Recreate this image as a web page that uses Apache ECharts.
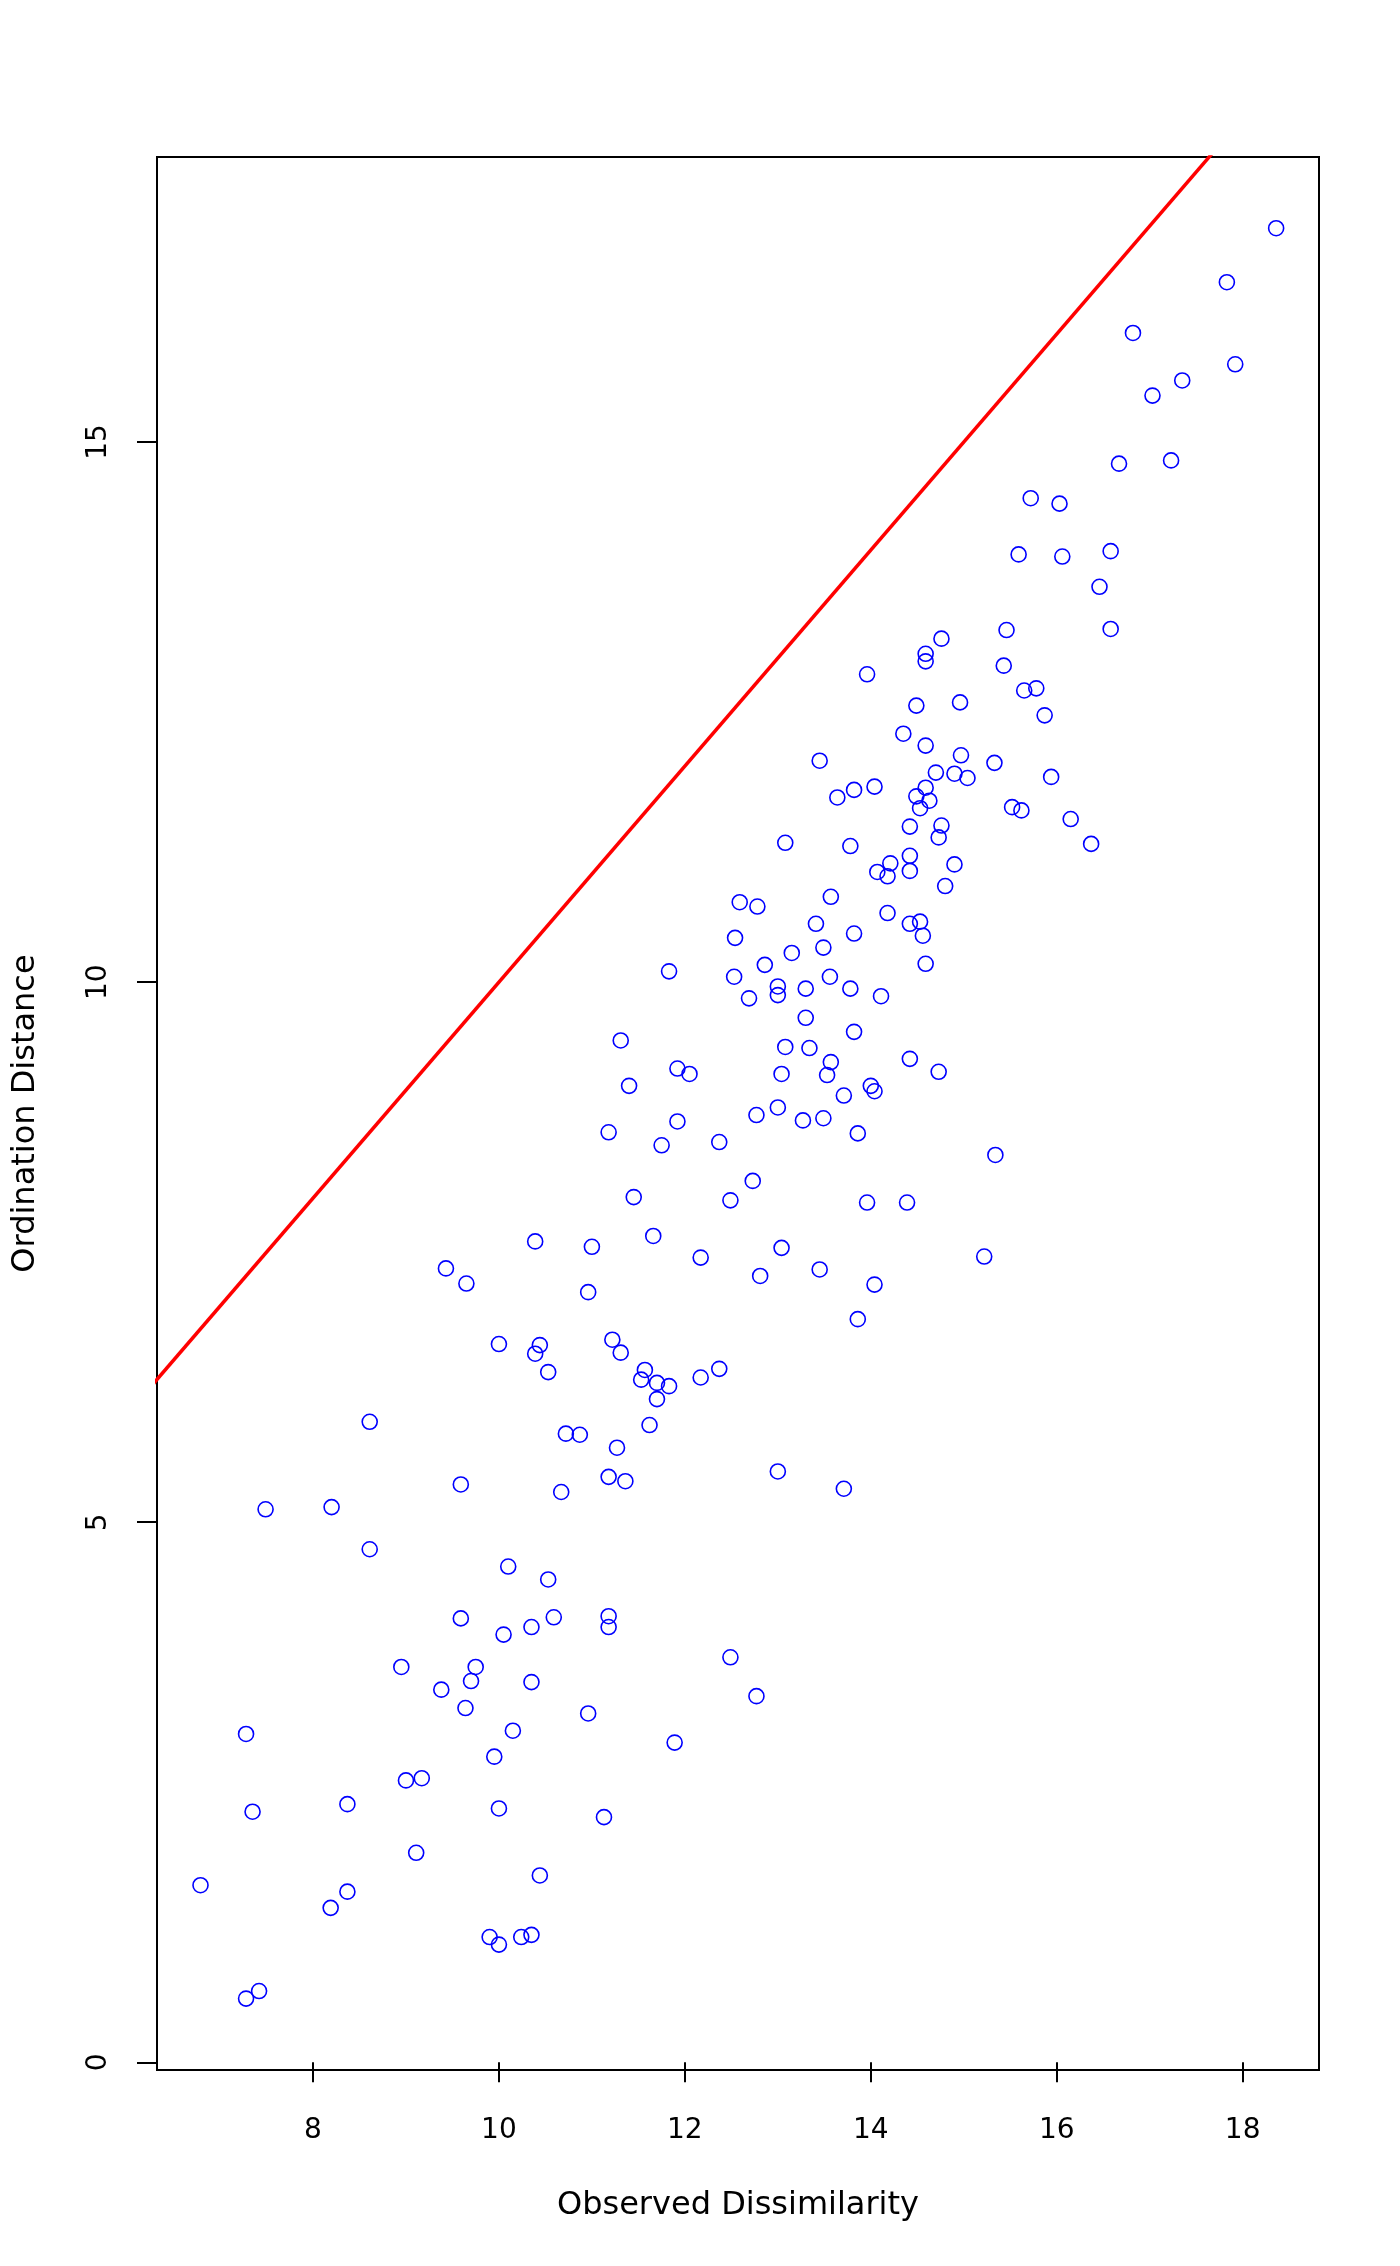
<!DOCTYPE html>
<html>
<head>
<meta charset="utf-8">
<script src="https://cdn.jsdelivr.net/npm/echarts@6/dist/echarts.min.js"></script>
<style>
  html, body { margin: 0; padding: 0; background: #fff; }
  #chart { width: 1400px; height: 2266px; }
</style>
</head>
<body>
<div id="chart"></div>
<script>
// observed dissimilarity (x) and ordination distance (y)
var dissim = [
  18.36,17.83,16.82,17.92,17.35,17.03,16.67,17.23,15.72,16.03,15.59,16.06,16.58,16.46,
  15.46,16.58,14.76,14.59,14.59,15.43,13.96,15.65,15.78,14.49,
  14.96,15.87,14.35,14.59,13.45,14.97,15.33,14.70,14.90,15.04,
  15.94,13.64,13.82,14.04,14.49,14.59,14.63,14.53,15.52,15.62,
  16.15,14.42,14.76,14.73,16.37,13.08,13.78,14.42,14.21,14.07,
  14.18,14.42,14.90,14.80,13.57,12.78,14.18,13.41,14.42,14.53,
  13.82,14.56,13.49,13.15,12.86,14.59,13.56,13.00,13.00,13.30,
  13.78,14.11,12.59,12.54,
  11.83,12.53,12.69,13.30,13.82,11.31,13.08,13.34,13.57,13.53,
  13.04,14.42,14.73,11.92,12.05,11.40,14.00,14.04,13.71,13.00,
  12.77,13.27,13.49,11.92,13.86,11.18,11.75,12.37,12.73,11.45,
  12.49,13.96,14.39,11.66,11.00,13.04,12.17,13.45,12.81,14.04,
  10.96,13.86,11.22,
  10.39,9.43,9.65,10.00,10.44,10.39,10.53,11.31,11.57,11.53,
  11.70,11.83,11.70,12.17,12.37,11.62,10.72,10.87,11.27,9.59,
  10.67,11.18,11.36,13.00,13.71,10.10,10.53,12.49,12.77,
  9.59,10.05,10.35,10.59,11.18,11.18,8.95,9.75,9.70,9.38,
  10.35,9.64,10.96,10.15,7.28,9.95,9.00,9.17,8.37,7.35,
  10.00,11.13,9.11,10.44,6.79,8.37,8.19,9.90,10.00,10.24,
  10.35,7.28,7.42,
  15.34,15.22,8.61,7.49,8.20,8.61,11.89
];
var ordDist = [
  16.98,16.48,16.01,15.72,15.57,15.43,14.80,14.83,14.48,14.43,13.96,13.94,13.99,13.66,
  13.26,13.27,13.18,13.04,12.97,12.93,12.85,12.70,12.72,12.56,
  12.59,12.47,12.30,12.19,12.05,12.10,12.03,11.94,11.93,11.89,
  11.90,11.71,11.78,11.81,11.72,11.80,11.68,11.61,11.62,11.59,
  11.51,11.44,11.45,11.34,11.28,11.29,11.26,11.17,11.10,11.02,
  10.98,11.03,11.09,10.89,10.79,10.70,10.64,10.54,10.54,10.56,
  10.45,10.43,10.32,10.27,10.16,10.17,10.05,9.96,9.88,9.94,
  9.94,9.87,10.74,10.41,
  10.10,10.05,9.85,9.67,9.54,9.46,9.40,9.39,9.26,9.14,
  9.15,9.29,9.17,9.20,9.15,9.04,9.04,8.99,8.95,8.84,
  8.77,8.72,8.74,8.71,8.60,8.61,8.49,8.52,8.16,8.01,
  7.98,7.96,7.96,7.65,7.55,7.54,7.45,7.34,7.28,7.20,
  7.13,6.88,6.69,
  7.60,7.35,7.21,6.65,6.64,6.56,6.39,6.57,6.41,6.32,
  6.29,6.26,6.14,6.34,6.42,5.90,5.82,5.81,5.69,5.35,
  5.28,5.42,5.38,5.47,5.31,4.59,4.47,3.75,3.39,
  4.11,3.96,4.03,4.12,4.13,4.03,3.66,3.66,3.53,3.45,
  3.52,3.28,3.23,3.07,3.04,2.83,2.61,2.63,2.39,2.32,
  2.35,2.27,1.94,1.73,1.64,1.58,1.43,1.16,1.09,1.16,
  1.18,0.59,0.66,
  8.40,7.46,5.93,5.12,5.14,4.75,2.96
];

// 1:1 reference line
var lineX = [6, 19];
var lineY = [6, 19];

var xTicks = [8, 10, 12, 14, 16, 18];
var yTicks = [0, 5, 10, 15];

var points = [];
for (var i = 0; i < dissim.length; i++) {
  points.push([dissim[i], ordDist[i]]);
}
var linePts = [];
for (var j = 0; j < lineX.length; j++) {
  linePts.push([lineX[j], lineY[j]]);
}

var font = 'DejaVu Sans';
var chart = echarts.init(document.getElementById('chart'));
chart.setOption({
  animation: false,
  backgroundColor: '#fff',
  textStyle: { fontFamily: font },
  grid: {
    left: 157, right: 81, top: 157, bottom: 196,
    show: true, borderColor: '#000', borderWidth: 2,
    backgroundColor: 'transparent'
  },
  xAxis: {
    type: 'value',
    min: 6.322,
    max: 18.821,
    name: 'Observed Dissimilarity',
    nameLocation: 'middle',
    nameGap: 120,
    nameTextStyle: { fontSize: 32, color: '#000', fontFamily: font },
    axisLine: { show: false },
    splitLine: { show: false },
    axisTick: {
      show: true, inside: false, length: 20,
      customValues: xTicks,
      lineStyle: { color: '#000', width: 2 }
    },
    axisLabel: {
      customValues: xTicks,
      margin: 47,
      fontSize: 28,
      color: '#000',
      fontFamily: font
    }
  },
  yAxis: {
    type: 'value',
    min: -0.071,
    max: 17.639,
    name: 'Ordination Distance',
    nameLocation: 'middle',
    nameGap: 115,
    nameRotate: 90,
    nameTextStyle: { fontSize: 32, color: '#000', fontFamily: font },
    axisLine: { show: false },
    splitLine: { show: false },
    axisTick: {
      show: true, inside: false, length: 20,
      customValues: yTicks,
      lineStyle: { color: '#000', width: 2 }
    },
    axisLabel: {
      customValues: yTicks,
      rotate: 90,
      margin: 44,
      fontSize: 28,
      color: '#000',
      fontFamily: font
    }
  },
  series: [
    {
      type: 'scatter',
      data: points,
      symbol: 'circle',
      symbolSize: 15,
      itemStyle: {
        color: 'rgba(0,0,0,0)',
        borderColor: '#0000ff',
        borderWidth: 1.6,
        opacity: 1
      },
      z: 3
    },
    {
      type: 'line',
      data: linePts,
      showSymbol: false,
      clip: true,
      lineStyle: { color: '#ff0000', width: 3.5 },
      z: 2
    }
  ]
});
</script>
</body>
</html>
